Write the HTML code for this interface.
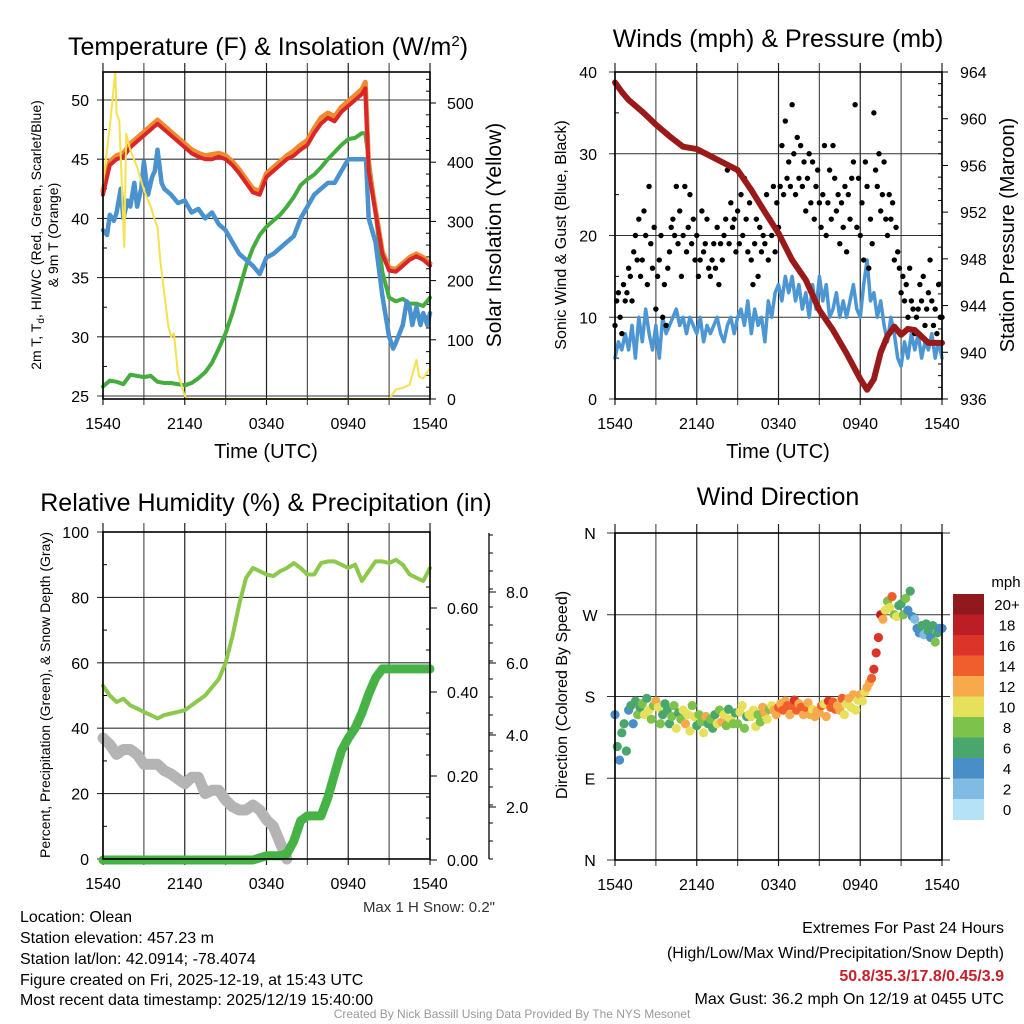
<!DOCTYPE html>
<html><head><meta charset="utf-8"><style>
html,body{margin:0;padding:0;background:#fff;}
svg{display:block;font-family:"Liberation Sans",Arial,sans-serif;}
</style></head><body>
<svg id="c" width="1024" height="1024" viewBox="0 0 1024 1024" xmlns="http://www.w3.org/2000/svg">
<rect width="1024" height="1024" fill="#fff"/>
<text x="268" y="55" font-size="25" text-anchor="middle">Temperature (F) &amp; Insolation (W/m<tspan font-size="15" dy="-9">2</tspan><tspan dy="9">)</tspan></text>
<text x="778" y="47" font-size="25" text-anchor="middle">Winds (mph) &amp; Pressure (mb)</text>
<text x="266" y="511" font-size="25" text-anchor="middle">Relative Humidity (%) &amp; Precipitation (in)</text>
<text x="778" y="505" font-size="25" text-anchor="middle">Wind Direction</text>
<text x="266" y="458" font-size="20" text-anchor="middle">Time (UTC)</text>
<text x="778" y="458" font-size="20" text-anchor="middle">Time (UTC)</text>
<text transform="translate(41,235) rotate(-90)" font-size="14" text-anchor="middle">2m T, T<tspan font-size="10" dy="3">d</tspan><tspan dy="-3">, HI/WC (Red, Green, Scarlet/Blue)</tspan></text>
<text transform="translate(58,235) rotate(-90)" font-size="14" text-anchor="middle">&amp; 9m T (Orange)</text>
<text transform="translate(501,235) rotate(-90)" font-size="21" text-anchor="middle">Solar Insolation (Yellow)</text>
<text transform="translate(566,235) rotate(-90)" font-size="16" text-anchor="middle">Sonic Wind &amp; Gust (Blue, Black)</text>
<text transform="translate(1014,235) rotate(-90)" font-size="20" text-anchor="middle">Station Pressure (Maroon)</text>
<text transform="translate(50,695) rotate(-90)" font-size="14" text-anchor="middle">Percent, Precipitation (Green), &amp; Snow Depth (Gray)</text>
<text transform="translate(567,695) rotate(-90)" font-size="16" text-anchor="middle">Direction (Colored By Speed)</text>
<text x="495" y="912" font-size="15" text-anchor="end" fill="#333">Max 1 H Snow: 0.2"</text>
<g font-size="16">
<text x="20" y="922">Location: Olean</text>
<text x="20" y="943">Station elevation: 457.23 m</text>
<text x="20" y="964">Station lat/lon: 42.0914; -78.4074</text>
<text x="20" y="985">Figure created on Fri, 2025-12-19, at 15:43 UTC</text>
<text x="20" y="1005">Most recent data timestamp: 2025/12/19 15:40:00</text>
</g>
<g font-size="16" text-anchor="end">
<text x="1004" y="933">Extremes For Past 24 Hours</text>
<text x="1004" y="958">(High/Low/Max Wind/Precipitation/Snow Depth)</text>
<text x="1004" y="981" fill="#c8202a" font-weight="bold">50.8/35.3/17.8/0.45/3.9</text>
<text x="1004" y="1004">Max Gust: 36.2 mph On 12/19 at 0455 UTC</text>
</g>
<text x="512" y="1018" font-size="12" fill="#999" text-anchor="middle">Created By Nick Bassill Using Data Provided By The NYS Mesonet</text>
<g id="layer"></g>
</svg>
<script>
const timeLabels = ["1540","2140","0340","0940","1540"];
const tempTimes = [0,0.5,1,1.5,2,2.5,3,3.5,4,4.5,5,5.5,6,6.5,7,7.5,8,8.5,9,9.5,10,10.5,11,11.5,12,12.5,13,13.5,14,14.5,15,15.5,16,16.5,17,17.5,18,18.5,19,19.25,19.5,20,20.5,21,21.5,22,22.5,23,23.5,24];
const orangeTemp = [42.3,44.8,45.3,45.5,46.3,46.8,47.3,47.8,48.3,47.8,47.3,46.8,46.3,45.8,45.5,45.3,45.4,45.5,45.3,44.8,44.1,43.3,42.5,42.3,43.8,44.3,44.8,45.3,45.7,46.2,46.6,47.6,48.5,48.9,48.6,49.4,49.9,50.4,50.9,51.5,44.3,40.7,37.2,35.8,35.7,36.2,36.7,37,36.7,36.2];
const redTemp = [42,44.5,45,45.2,46,46.5,47,47.5,48,47.5,47,46.5,46,45.5,45.2,45,45,45.2,45,44.5,43.8,43,42.2,42,43.5,44,44.5,45,45.3,45.8,46.2,47.2,48,48.5,48.2,49,49.5,50,50.5,51,44,40.5,37,35.6,35.5,36,36.5,36.8,36.5,36];
const greenDew = [25.8,26.3,26.2,26,26.8,26.7,26.6,26.7,26.2,26.1,26.1,26,25.9,26.1,26.5,27,27.8,29,30.3,32,34,36,37.5,38.6,39.3,39.8,40.3,41,41.8,42.8,43.3,43.7,44.3,45,45.6,46.2,46.7,46.8,47.2,47.2,45,40.5,35.5,33.3,33,33.2,32.8,32.8,32.6,33.3];
const blueTimes = [0,0.3,0.5,0.8,1,1.3,1.5,1.8,2,2.3,2.5,2.8,3,3.3,3.6,3.8,4,4.3,4.5,5,5.5,6,6.5,7,7.5,8,8.5,9,9.5,10,10.5,11,11.5,12,12.5,13,13.5,14,14.5,15,15.5,16,16.5,17,17.5,18,18.5,19,19.3,19.5,20,20.5,21,21.3,21.5,22,22.3,22.5,22.7,23,23.3,23.5,23.8,24];
const blueTemp = [39,38.6,40.3,39.8,40.5,42.5,40,41.5,41,43,41,42.5,44.8,42,43.5,44,45.8,43,42.5,42,41.3,41.5,40.5,40.8,40,40.5,39.5,39,38,37,36.5,36,35.3,36.7,37,37.5,38,38.5,40,41,42,42.5,43,43,44,45,45,45,45,40,38,33.5,30,29,29.5,31,33,32.5,31,32.5,31,32,31,32];
const solarTimes = [0,0.5,0.9,1,1.2,1.56,1.7,2,2.5,3,3.5,3.8,4,4.2,4.5,4.8,5,5.2,5.5,6,6.3,21,21.5,22,22.5,23,23.2,23.5,24];
const solarVals = [364,460,552,482,470,257,448,420,392,353,325,302,291,235,178,122,105,111,44,5,0,0,16,19,24,66,38,35,52];
const tempTicks = [25,30,35,40,45,50];
const solarTicks = [0,100,200,300,400,500];

const presTimes = [0,0.5,1,2,3,4,5,6,7,8,9,10,11,12,13,14,15,16,17,18,18.5,19,19.5,20,20.5,21,21.5,22,23,24];
const presVals = [963.1,962.3,961.6,960.6,959.5,958.5,957.6,957.4,956.8,956.2,955.6,953.9,952,950.2,947.9,946.2,943.6,941.9,939.9,937.7,936.8,937.7,940,941.4,942.2,941.5,942,941.9,940.8,940.8];
const windVals = [5,7,6,8,6,9,5,10,7,11,8,6,9,5,10,8,9,10,11,9,10,8,10,9,8,10,7,9,8,9,10,8,7,9,10,8,10,11,9,12,8,11,9,10,7,12,10,13,14,12,15,13,15,12,14,11,13,10,14,11,15,12,14,10,11,13,10,12,10,12,14,11,10,14,17,12,13,10,12,9,7,10,8,5,4,7,5,8,6,8,5,7,6,8,5,7,5];
const gustVals = [9,12,13,10,8,14,12,13,16,15,12,18,20,17,22,15,17,23,20,14,26,19,16,21,11,15,17,20,10,14,9,16,18,21,22,20,26,19,23,15,20,26,18,21,25,19,22,17,20,15,17,23,18,19,22,16,15,17,19,16,21,14,19,17,20,22,28,19,24,21,22,18,23,19,25,20,27,22,18,24,17,14,19,22,15,21,18,20,19,25,17,22,20,26,18,24,21,26,31,25,34,27,29,26,36,30,25,32,27,31,26,29,23,27,30,24,29,22,26,28,24,21,25,31,20,24,28,22,31,27,23,25,19,24,21,26,18,25,22,27,29,36,21,27,20,24,17,29,26,16,22,19,35,28,26,30,23,25,29,22,20,25,22,24,17,21,18,16,13,15,12,14,10,16,12,11,8,10,11,14,12,15,9,11,13,17,12,9,11,8,14,10,10];
const windTicks = [0,10,20,30,40];
const presTicks = [936,940,944,948,952,956,960,964];

const rhVals = [53,50,48,49,47,46,45,44,43,44,44.5,45,45.5,47,48.5,50,52.5,55,60,68,78,86,89,88,87,86.5,88,89,90.5,89,87,87,90.5,91,91,90,89,90,85,88,91,91,90.5,91.5,90,87,86,85,89];
const snowVals = [37,35,32,33.5,33.5,32,29,29,29,27,26,24.5,23,25,25,20,21,21,18,16,15,15,16.5,15,12,10,5,0];
const precipTimes = [0,11,11.5,12,13,13.5,14,14.5,15,16,16.5,17,17.5,18,18.5,19,19.5,20,20.5,24];
const precipVals = [0,0,0.005,0.01,0.01,0.015,0.045,0.093,0.105,0.105,0.148,0.205,0.26,0.29,0.314,0.35,0.395,0.433,0.455,0.455];
const pctTicks = [0,20,40,60,80,100];
const precipTicks = ["0.00","0.20","0.40","0.60"];
const snowTicks = ["2.0","4.0","6.0","8.0"];

const dirVals = [160,125,110,140,150,120,165,170,150,175,160,168,172,160,178,165,155,170,175,168,150,160,172,165,150,158,170,145,162,155,165,150,160,142,170,158,148,160,152,140,158,150,155,145,160,150,165,152,160,148,166,155,150,162,150,163,170,145,158,160,158,165,147,160,152,168,162,155,166,170,165,160,168,172,165,175,170,160,170,176,165,172,168,160,168,173,160,166,158,164,162,170,172,158,175,168,174,166,170,165,178,160,172,178,168,182,165,176,182,175,185,190,195,200,210,228,245,270,265,275,285,278,290,270,268,280,282,270,288,275,296,268,265,255,250,258,248,260,252,245,258,240,250,255,255];
const speedVals = [4,6,4,6,7,6,5,6,4,7,8,6,8,10,7,10,9,8,12,10,8,6,7,6,6,8,9,10,7,8,10,12,11,10,9,10,6,8,9,10,12,7,8,7,6,10,9,12,10,9,7,10,8,6,8,10,11,9,7,10,11,10,10,8,9,12,12,10,9,11,13,12,14,13,14,12,15,13,14,16,14,13,15,12,14,12,13,11,12,12,12,14,11,13,16,14,15,14,13,12,14,10,10,12,10,12,11,10,12,11,10,13,12,14,16,17,16,18,12,10,8,10,14,9,11,7,6,8,8,5,6,4,3,4,5,6,3,6,6,5,7,8,6,4,4];
const dirLabels = ["N","E","S","W","N"];
const speedLabels = ["0","2","4","6","8","10","12","14","16","18","20+"];
const speedColors = ["#b5e2f6","#80bbe4","#4a8ec8","#49a66c","#7dc24a","#e6e05b","#f6aa4b","#ee5f2b","#dc3429","#bc1e26","#8f191c"];

const NS = "http://www.w3.org/2000/svg";
const layer = document.getElementById("layer");
function mk(tag, attrs, parent){
  const e = document.createElementNS(NS, tag);
  for (const k in attrs) e.setAttribute(k, attrs[k]);
  (parent||layer).appendChild(e);
  return e;
}
function axisX(X0,X1){ return h => X0 + h/24*(X1-X0); }
function axisY(Y0,Y1,v0,v1){ return v => Y0 + (v-v0)/(v1-v0)*(Y1-Y0); }
function pathD(ts, vs, fx, fy){ return ts.map((t,i)=>(i?"L":"M")+fx(t).toFixed(1)+","+fy(vs[i]).toFixed(1)).join(""); }
function evenT(n){ const a=[]; for(let i=0;i<n;i++) a.push(i*24/(n-1)); return a; }
function halfT(n){ const a=[]; for(let i=0;i<n;i++) a.push(i*0.5); return a; }
function txt(x,y,s,size,anchor,name,g){
  const t = mk("text",{x:x,y:y,"font-size":size,"text-anchor":anchor},g);
  
  
  t.textContent = s;
  return t;
}
function frame(X0,Y0,X1,Y1,name){
  const g = mk("g",{});
  
  
  const fx = axisX(X0,X1);
  for(let h=0;h<=24;h+=3){
    const l = mk("line",{x1:fx(h),x2:fx(h),y1:Y0-9,y2:Y1+6,stroke:(h%6?"#555":"#222"),"stroke-width":1.2},g);
    
    
  }
  for(let i=0;i<5;i++){
    txt(fx(i*6), Y1+30, timeLabels[i], 16, "middle", "x-tick-label", g);
  }
  return g;
}
function hgrid(g,X0,X1,y,ext){
  const l = mk("line",{x1:X0-(ext||6),x2:X1,y1:y,y2:y,stroke:"#333","stroke-width":1.1},g);
  
  
}
function border(g,X0,Y0,X1,Y1){
  const r = mk("rect",{x:X0,y:Y0,width:X1-X0,height:Y1-Y0,fill:"none",stroke:"#000","stroke-width":1.6},g);
  
  
}
function series(d,color,w,name,g){
  const p = mk("path",{d:d,fill:"none",stroke:color,"stroke-width":w,"stroke-linejoin":"round","stroke-linecap":"round"},g);
  
  
  return p;
}

(function(){
  const X0=103,X1=430,Y0=72,Y1=399;
  const fx=axisX(X0,X1), fy=axisY(396,100,25,50), fs=axisY(399,103,0,500);
  const g=frame(X0,Y0,X1,Y1,"temperature-chart");
  tempTicks.forEach(v=>{ hgrid(g,X0,X1,fy(v)); txt(X0-14,fy(v)+6,String(v),16,"end","temp-y-tick-label",g); });
  for(let v=27.5;v<52;v+=5){ mk("line",{x1:X0,x2:X0+4,y1:fy(v),y2:fy(v),stroke:"#000"},g); }
  solarTicks.forEach(v=>{ mk("line",{x1:X1,x2:X1+6,y1:fs(v),y2:fs(v),stroke:"#000"},g); txt(X1+17,fs(v)+6,String(v),16,"start","solar-y-tick-label",g); });
  for(let v=20;v<560;v+=20){ if(v%100) mk("line",{x1:X1-4,x2:X1,y1:fs(v),y2:fs(v),stroke:"#000"},g); }
  series(pathD(tempTimes,greenDew,fx,fy),"#45ac3f",4,"dewpoint-line",g);
  series(pathD(blueTimes,blueTemp,fx,fy),"#4a92ce",4.5,"wind-chill-line",g);
  series(pathD(tempTimes,orangeTemp,fx,fy),"#f08a2e",5,"temp-9m-line",g);
  series(pathD(tempTimes,redTemp,fx,fy),"#d9262a",4,"temp-2m-line",g);
  series(pathD(solarTimes,solarVals,fx,fs),"#f5e04e",2,"solar-insolation-line",g);
  border(g,X0,Y0,X1,Y1);
})();

(function(){
  const X0=615,X1=942,Y0=72,Y1=399;
  const fx=axisX(X0,X1), fy=axisY(399,72,0,40), fp=axisY(399,72,936,964);
  const g=frame(X0,Y0,X1,Y1,"winds-chart");
  windTicks.forEach(v=>{ hgrid(g,X0,X1,fy(v)); txt(X0-18,fy(v)+6,String(v),16,"end","wind-y-tick-label",g); });
  for(let v=5;v<40;v+=10){ mk("line",{x1:X0,x2:X0+4,y1:fy(v),y2:fy(v),stroke:"#000"},g); }
  presTicks.forEach(v=>{ mk("line",{x1:X1,x2:X1+6,y1:fp(v),y2:fp(v),stroke:"#000"},g); txt(X1+18,fp(v)+6,String(v),16,"start","pressure-y-tick-label",g); });
  for(let v=937;v<964;v++){ if(v%4) mk("line",{x1:X1-4,x2:X1,y1:fp(v),y2:fp(v),stroke:"#000"},g); }
  series(pathD(evenT(windVals.length),windVals,fx,fy),"#4c97d3",3.5,"sonic-wind-line",g);
  const gt=evenT(gustVals.length);
  gustVals.forEach((v,i)=>{
    const c=mk("circle",{cx:fx(gt[i]),cy:fy(v),r:2.7,fill:"#000"},g);
    
    
  });
  series(pathD(presTimes,presVals,fx,fp),"#9a1a1a",6,"pressure-line",g);
  border(g,X0,Y0,X1,Y1);
})();

(function(){
  const X0=103,X1=430,Y0=532,Y1=859;
  const fx=axisX(X0,X1), fy=axisY(859,532,0,100), fpr=axisY(860,776,0,0.2);
  const g=frame(X0,Y0,X1,Y1,"humidity-chart");
  pctTicks.forEach(v=>{ hgrid(g,X0,X1,fy(v)); txt(X0-14,fy(v)+6,String(v),16,"end","percent-y-tick-label",g); });
  for(let v=10;v<100;v+=20){ mk("line",{x1:X0,x2:X0+4,y1:fy(v),y2:fy(v),stroke:"#000"},g); }
  precipTicks.forEach(s=>{ const y=fpr(parseFloat(s)); mk("line",{x1:X1,x2:X1+7,y1:y,y2:y,stroke:"#000"},g); txt(X1+17,y+6,s,16,"start","precip-y-tick-label",g); });
  for(let v=0.05;v<0.66;v+=0.05){ if(Math.abs(v*5-Math.round(v*5))>0.01) mk("line",{x1:X1-4,x2:X1,y1:fpr(v),y2:fpr(v),stroke:"#000"},g); }
  const snowLine=mk("line",{x1:489,x2:489,y1:533,y2:859,stroke:"#000","stroke-width":1.3},g);
  
  
  const snowY=[807,735,663,592];
  snowTicks.forEach((s,i)=>{ mk("line",{x1:489,x2:496,y1:snowY[i],y2:snowY[i],stroke:"#000"},g); txt(506,snowY[i]+6,s,16,"start","snow-y-tick-label",g); });
  for(let y=859;y>533;y-=18){ mk("line",{x1:489,x2:493,y1:y,y2:y,stroke:"#000"},g); }
  series(pathD(halfT(snowVals.length),snowVals,fx,fy),"#b4b4b4",11,"snow-depth-line",g);
  series(pathD(halfT(rhVals.length),rhVals,fx,fy),"#8cc84b",4,"relative-humidity-line",g);
  series(pathD(precipTimes,precipVals,fx,fpr),"#47b347",9,"precipitation-line",g);
  border(g,X0,Y0,X1,Y1);
})();

(function(){
  const X0=615,X1=942,Y0=533,Y1=860;
  const fx=axisX(X0,X1), fy=axisY(860,533,0,360);
  const g=frame(X0,Y0,X1,Y1,"wind-direction-chart");
  dirLabels.forEach((s,i)=>{ const y=fy(i*90); hgrid(g,X0,X1+8,y,8); txt(X0-25,y+6,s,16,"middle","direction-tick-label",g); });
  const t=evenT(dirVals.length);
  dirVals.forEach((d,i)=>{
    const c=mk("circle",{cx:fx(t[i]),cy:fy(d),r:4.6,fill:speedColors[Math.min(10,Math.floor(speedVals[i]/2))]},g);
    
    
  });
  border(g,X0,Y0,X1,Y1);
  const cb=mk("g",{});
  
  
  const top=594, bh=20.5;
  txt(1006,587,"mph",15,"middle","colorbar-title",cb);
  for(let i=0;i<11;i++){
    const idx=10-i;
    const r=mk("rect",{x:953,y:top+i*bh,width:31,height:bh+0.5,fill:speedColors[idx]},cb);
    
    
    txt(1007,top+i*bh+16,speedLabels[idx],15,"middle","colorbar-label",cb);
  }
})();
</script>
</body></html>
